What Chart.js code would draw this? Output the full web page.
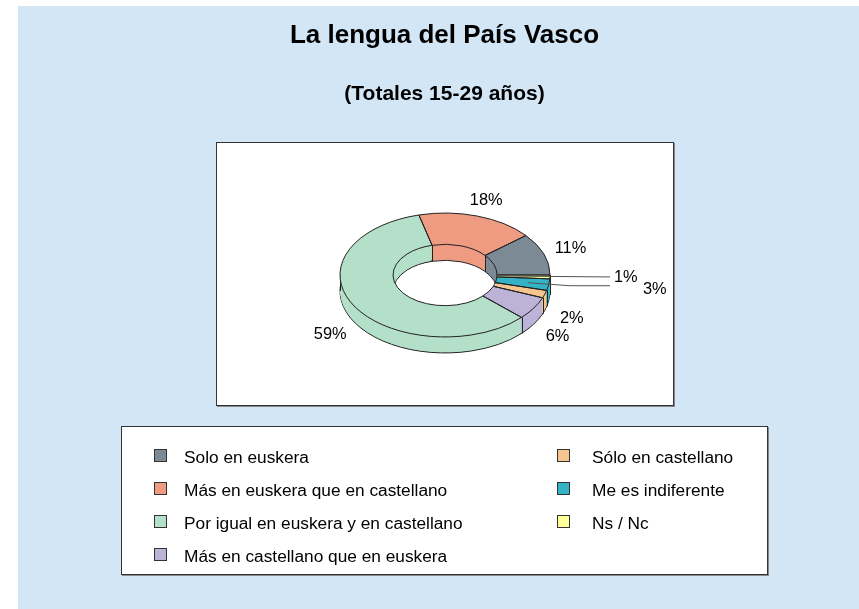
<!DOCTYPE html>
<html>
<head>
<meta charset="utf-8">
<script src="https://cdn.jsdelivr.net/npm/chart.js@4"></script>
<style>
html, body { margin: 0; padding: 0; background: #fff; }
body { width: 859px; height: 609px; position: relative; overflow: hidden; font-family: "Liberation Sans", Arial, sans-serif; }
#bg { position: absolute; left: 18px; top: 6px; width: 841px; height: 603px; background: #d2e6f5; }
#plot { position: absolute; left: 216px; top: 142px; width: 456px; height: 262px; background: #fff; border: 1px solid #333; box-shadow: 1px 1px 0 #888; }
#legendBox { position: absolute; left: 121px; top: 426px; width: 645px; height: 147px; background: #fff; border: 1px solid #333; box-shadow: 1px 1px 0 #888; }
#wrap { position: absolute; left: 0; top: 0; width: 859px; height: 609px; }
.item { position: absolute; height: 20px; line-height: 20px; font-size: 17.3px; color: #000; white-space: nowrap; }
.sw { position: absolute; width: 11px; height: 11px; border: 1px solid #333; }
</style>
</head>
<body>
<div id="bg"></div>
<div id="plot"></div>
<div id="legendBox"></div>
<div id="wrap"><canvas id="graph1" width="859" height="609"></canvas></div>
<div id="legend"></div>
<script>
// data (percentages, counter-clockwise from 3 o'clock)
var labels = ["Solo en euskera", "Más en euskera que en castellano", "Por igual en euskera y en castellano",
              "Más en castellano que en euskera", "Sólo en castellano", "Me es indiferente", "Ns / Nc"];
var values = [11, 18, 59, 6, 2, 3, 1];
var colors = ["#7b8a94", "#ef9b82", "#b4e0c9", "#bdb3d9", "#f5c590", "#35b3c6", "#ffff99"];

// 3d look
var K = 0.59, DEPTH = 16, CX = 445, CY = 275;
// labels moved out with a leader line: index -> offsets
var leaders = {
    5: {from: 0.6, elbowDx: 20, elbowDy: 3, endDx: 60, textDx: 33, textDy: 4},
    6: {from: 0, elbowDx: 0, elbowDy: 1, endDx: 60, textDx: 4, textDy: 1}
};

function ringPath(ctx, x, y, R, r, a0, a1) {
    ctx.beginPath();
    ctx.ellipse(x, y, R, R * K, 0, -a0, -a1, true);
    ctx.ellipse(x, y, r, r * K, 0, -a1, -a0, false);
    ctx.closePath();
}

var pie3d = {
    id: 'pie3d',
    beforeDatasetsDraw: function (chart) {
        var ctx = chart.ctx;
        var arcs = chart.getDatasetMeta(0).data;
        ctx.save();
        ctx.lineWidth = 1;
        ctx.strokeStyle = '#222';
        // side walls, stacked from the bottom up
        for (var d = DEPTH; d >= 1; d--) {
            arcs.forEach(function (a, i) {
                ringPath(ctx, CX, CY + d, a.outerRadius, a.innerRadius, a.startAngle, a.endAngle);
                ctx.fillStyle = colors[i];
                ctx.fill();
                if (d === DEPTH) ctx.stroke();
            });
        }
        // vertical edges
        var R = arcs[0].outerRadius, r = arcs[0].innerRadius;
        var edges = arcs.map(function (a) { return a.startAngle; });
        edges.push(Math.PI);
        ctx.beginPath();
        edges.forEach(function (p) {
            var s = Math.sin(p), c = Math.cos(p);
            if (s <= 0.001) {
                var x = Math.round(CX + R * c) + 0.5, y = CY - K * R * s;
                ctx.moveTo(x, y); ctx.lineTo(x, y + DEPTH);
            }
            if (s > 0.001) {
                var xi = Math.round(CX + r * c) + 0.5, yi = CY - K * r * s;
                ctx.moveTo(xi, yi); ctx.lineTo(xi, yi + DEPTH);
            }
        });
        ctx.stroke();
        ctx.restore();
        // top face drawn by chart.js, squashed
        ctx.save();
        ctx.translate(CX, CY);
        ctx.scale(1, -K);
        ctx.translate(-arcs[0].x, -arcs[0].y);
    },
    afterDatasetsDraw: function (chart) {
        var ctx = chart.ctx;
        ctx.restore();
        var arcs = chart.getDatasetMeta(0).data;
        ctx.save();
        ctx.lineWidth = 1;
        ctx.strokeStyle = '#222';
        arcs.forEach(function (a) {
            ringPath(ctx, CX, CY, a.outerRadius, a.innerRadius, a.startAngle, a.endAngle);
            ctx.stroke();
        });
        // percentage labels
        ctx.font = '16.4px "Liberation Sans", Arial, sans-serif';
        ctx.fillStyle = '#000';
        ctx.textBaseline = 'middle';
        arcs.forEach(function (a, i) {
            var p = (a.startAngle + a.endAngle) / 2;
            var c = Math.cos(p), s = Math.sin(p);
            var R = a.outerRadius, r = a.innerRadius;
            var txt = values[i] + '%';
            var L = leaders[i];
            if (L) {
                var rr = r + L.from * (R - r);
                var sx = CX + rr * c, sy = CY - K * rr * s;
                var ex = CX + R + L.endDx, ey = sy + L.elbowDy;
                ctx.beginPath();
                ctx.strokeStyle = '#555';
                ctx.moveTo(sx, sy);
                if (L.elbowDx) ctx.lineTo(CX + R + L.elbowDx, ey);
                ctx.lineTo(ex, ey);
                ctx.stroke();
                ctx.textAlign = 'left';
                ctx.fillText(txt, ex + L.textDx, ey + L.textDy);
            } else {
                var f = 1.27;
                var lx = CX + f * R * c;
                var ly = CY - f * K * R * s + (s < 0 ? DEPTH + 3 : 0);
                ctx.textAlign = 'center';
                ctx.fillText(txt, lx, ly);
            }
        });
        ctx.restore();
    }
};

var graph1 = new Chart(document.getElementById('graph1'), {
    type: 'doughnut',
    data: {
        labels: labels,
        datasets: [{
            data: values,
            backgroundColor: colors,
            borderWidth: 0,
            clip: false
        }]
    },
    options: {
        responsive: false,
        animation: false,
        events: [],
        rotation: 90,
        radius: 105,
        cutout: '49.5%',
        layout: {padding: {left: 30}},
        plugins: {
            legend: {display: false},
            tooltip: {enabled: false},
            title: {
                display: true,
                text: 'La lengua del País Vasco',
                color: '#000',
                font: {size: 26, weight: 'bold', family: '"Liberation Sans", Arial, sans-serif'},
                padding: {top: 20, bottom: 20}
            },
            subtitle: {
                display: true,
                text: '(Totales 15-29 años)',
                color: '#000',
                font: {size: 21, weight: 'bold', family: '"Liberation Sans", Arial, sans-serif'},
                padding: {top: 10, bottom: 10}
            }
        }
    },
    plugins: [pie3d]
});

// legend in two columns, built from the same arrays
var leg = document.getElementById('legend');
labels.forEach(function (t, i) {
    var col = i < 4 ? 0 : 1;
    var row = i < 4 ? i : i - 4;
    var cy = 457 + 33 * row;
    var sw = document.createElement('div');
    sw.className = 'sw';
    sw.style.left = (col ? 557 : 154) + 'px';
    sw.style.top = (cy - 8) + 'px';
    sw.style.background = colors[i];
    leg.appendChild(sw);
    var it = document.createElement('div');
    it.className = 'item';
    it.style.left = (col ? 592 : 184) + 'px';
    it.style.top = (cy - 10) + 'px';
    it.textContent = t;
    leg.appendChild(it);
});
</script>
</body>
</html>
